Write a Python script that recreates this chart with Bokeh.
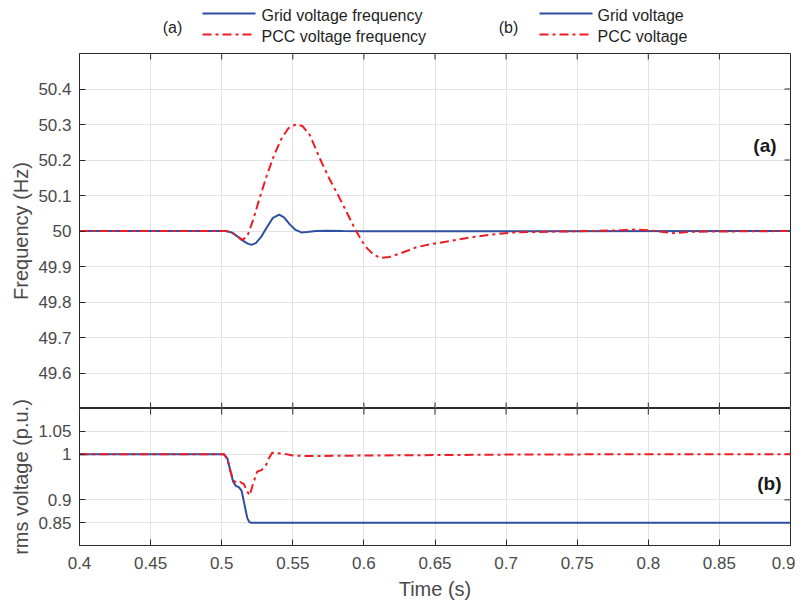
from bokeh.plotting import figure
from bokeh.layouts import column
from bokeh.models import Range1d, FixedTicker, NumeralTickFormatter
from bokeh.core.properties import value
from bokeh.embed import file_html
from bokeh.resources import INLINE

# ---------------- data ----------------
x_ticks = [0.4, 0.45, 0.5, 0.55, 0.6, 0.65, 0.7, 0.75, 0.8, 0.85, 0.9]
f_ticks = [49.6, 49.7, 49.8, 49.9, 50.0, 50.1, 50.2, 50.3, 50.4]
v_ticks = [0.85, 0.9, 1.0, 1.05]

grid_f_t = [0.4, 0.503, 0.507, 0.511, 0.514, 0.518, 0.521, 0.524, 0.528, 0.532, 0.536,
            0.5405, 0.544, 0.548, 0.552, 0.556, 0.56, 0.566, 0.574, 0.585, 0.6, 0.9]
grid_f = [50.0, 50.0, 49.996, 49.985, 49.975, 49.965, 49.961, 49.966, 49.985, 50.012, 50.037,
          50.046, 50.038, 50.018, 50.003, 49.996, 49.997, 50.0, 50.001, 50.0, 49.999, 50.0]

pcc_f_t = [0.4, 0.503, 0.507, 0.511, 0.5145, 0.518, 0.522, 0.527, 0.532, 0.537, 0.542, 0.547,
           0.5526, 0.557, 0.562, 0.5695, 0.576, 0.5812, 0.587, 0.593, 0.598, 0.6023, 0.607,
           0.6117, 0.618, 0.6257, 0.6375, 0.65, 0.661, 0.675, 0.69, 0.705, 0.73, 0.76, 0.78,
           0.79, 0.80, 0.8177, 0.83, 0.9]
pcc_f = [50.0, 50.0, 49.996, 49.985, 49.975, 49.985, 50.03, 50.097, 50.16, 50.215, 50.26, 50.29,
         50.301, 50.295, 50.27, 50.2, 50.145, 50.106, 50.06, 50.012, 49.975, 49.951, 49.933,
         49.924, 49.927, 49.937, 49.955, 49.965, 49.972, 49.982, 49.99, 49.996, 49.998, 50.0, 50.002,
         50.004, 50.002, 49.994, 49.998, 50.0]

grid_v_t = [0.4, 0.5015, 0.504, 0.506, 0.508, 0.510, 0.512, 0.514, 0.516, 0.518, 0.5195, 0.521, 0.9]
grid_v = [1.0, 1.0, 0.99, 0.965, 0.94, 0.93, 0.928, 0.92, 0.89, 0.86, 0.851, 0.85, 0.85]

pcc_v_t = [0.4, 0.5015, 0.504, 0.506, 0.508, 0.5105, 0.513, 0.5155, 0.518, 0.5198, 0.522, 0.525,
           0.528, 0.531, 0.533, 0.5355, 0.539, 0.5437, 0.55, 0.5578, 0.57, 0.6, 0.65, 0.7, 0.75,
           0.8, 0.9]
pcc_v = [1.0, 1.0, 0.99, 0.965, 0.943, 0.937, 0.939, 0.935, 0.918, 0.91, 0.935, 0.962,
         0.965, 0.975, 0.99, 1.003, 1.002, 1.001, 0.997, 0.996, 0.996, 0.997, 0.998, 0.999, 0.9995,
         1.0, 1.0]

legend_a = ["Grid voltage frequency", "PCC voltage frequency"]
legend_b = ["Grid voltage", "PCC voltage"]

# ---------------- style ----------------
FONT = "Liberation Sans"
BLUE = "#2f4fa2"
RED = "#ee1c25"
TXT = "#4a4a4a"
AX = "#2b2b2b"
GRID = "#e3e3e3"
DASH = "9 4 3 4"
W = 795
BL, BR = 79, 5
FRAME_W = W - BL - BR
TICK_PX = 6
OVERLAP = 24  # bottom panel canvas reaches up over the top panel (transparent)

X0, X1 = 0.4, 0.9


def style_axis(ax):
    ax.axis_line_color = AX
    ax.major_tick_line_color = AX
    ax.major_tick_in = TICK_PX
    ax.major_tick_out = 0
    ax.minor_tick_in = 0
    ax.minor_tick_out = 0
    ax.major_label_text_font = FONT
    ax.major_label_text_font_size = "17px"
    ax.major_label_text_color = TXT
    ax.axis_label_text_font = FONT
    ax.axis_label_text_font_size = "20px"
    ax.axis_label_text_font_style = "normal"
    ax.axis_label_text_color = TXT


def make_fig(height, border_top, border_bottom, y0, y1, yticks, ylabel, show_x):
    p = figure(width=W, height=height, output_backend="svg", toolbar_location=None,
               x_range=Range1d(X0, X1), y_range=Range1d(y0, y1),
               min_border_left=BL, min_border_right=BR, min_border_top=border_top,
               min_border_bottom=border_bottom)
    p.outline_line_color = AX
    xt = FixedTicker(ticks=x_ticks)
    yt = FixedTicker(ticks=yticks)
    p.xaxis.ticker = xt
    p.yaxis.ticker = yt
    p.xaxis.formatter = NumeralTickFormatter(format="0.[00]")
    p.yaxis.formatter = NumeralTickFormatter(format="0.[00]")
    p.xgrid.ticker = xt
    p.ygrid.ticker = yt
    for g in (p.xgrid[0], p.ygrid[0]):
        g.grid_line_color = GRID
        g.grid_line_width = 1
    style_axis(p.yaxis[0])
    p.yaxis.axis_label = ylabel
    p.yaxis.major_label_standoff = 8
    p.yaxis.axis_label_standoff = 3
    if show_x:
        style_axis(p.xaxis[0])
        p.xaxis.axis_label = "Time (s)"
        p.xaxis.major_label_standoff = 11
        p.xaxis.axis_label_standoff = 6
    else:
        p.xaxis.visible = False

    # inward ticks on the remaining box edges (MATLAB-style box)
    frame_h = height - border_bottom - border_top
    dx = (X1 - X0) * TICK_PX / FRAME_W
    dy = (y1 - y0) * TICK_PX / frame_h
    inner_x = [t for t in x_ticks if X0 < t < X1]
    inner_y = [t for t in yticks if y0 < t < y1]
    p.segment(x0=[X1] * len(inner_y), y0=inner_y, x1=[X1 - dx] * len(inner_y), y1=inner_y,
              line_color=AX, line_width=1)
    p.segment(x0=inner_x, y0=[y1] * len(inner_x), x1=inner_x, y1=[y1 - dy] * len(inner_x),
              line_color=AX, line_width=1)
    if not show_x:
        p.segment(x0=inner_x, y0=[y0] * len(inner_x), x1=inner_x, y1=[y0 + dy] * len(inner_x),
                  line_color=AX, line_width=1)
    return p


# ---------------- legend strip (page-pixel coordinates) ----------------
LEG_H = 53
leg = figure(width=W, height=LEG_H, output_backend="svg", toolbar_location=None,
             x_range=Range1d(BL, BL + FRAME_W), y_range=Range1d(LEG_H, 0),
             x_axis_type=None, y_axis_type=None, min_border_left=BL, min_border_right=BR,
             min_border_top=0, min_border_bottom=0)
leg.outline_line_color = None
leg.xgrid.visible = False
leg.ygrid.visible = False
leg.segment(x0=[202, 539], y0=[13, 13], x1=[255, 592], y1=[13, 13], line_color=BLUE, line_width=2)
leg.segment(x0=[202, 539], y0=[34, 34], x1=[255, 592], y1=[34, 34], line_color=RED,
            line_width=2, line_dash=DASH)
leg.text(x=[261, 261, 597, 597], y=[15, 36, 15, 36],
         text=legend_a + legend_b,
         text_font=value(FONT), text_font_size="16px", text_color="#1f1f1f",
         text_baseline="middle", text_align="left")
leg.text(x=[172, 508], y=[27, 27], text=["(a)", "(b)"],
         text_font=value(FONT), text_font_size="16px", text_color="#1f1f1f",
         text_baseline="middle", text_align="center")

# ---------------- top panel: frequency ----------------
p1 = make_fig(355, 0, 0, 49.5, 50.5, f_ticks, "Frequency (Hz)", False)
p1.line(grid_f_t, grid_f, line_color=BLUE, line_width=2)
p1.line(pcc_f_t, pcc_f, line_color=RED, line_width=2, line_dash=DASH)
p1.text(x=[0.8902], y=[50.240], text=["(a)"], text_font=value(FONT), text_font_size="19px",
        text_font_style="bold", text_color="#1a1a1a", text_align="right",
        text_baseline="middle")

# ---------------- bottom panel: rms voltage ----------------
p2 = make_fig(198 + OVERLAP, OVERLAP, 61, 0.8, 1.1, v_ticks, "rms voltage (p.u.)", True)
p2.border_fill_alpha = 0
p2.styles = {"margin-top": f"-{OVERLAP}px"}
p2.line(grid_v_t, grid_v, line_color=BLUE, line_width=2)
p2.line(pcc_v_t, pcc_v, line_color=RED, line_width=2, line_dash=DASH)
p2.text(x=[0.8937], y=[0.936], text=["(b)"], text_font=value(FONT), text_font_size="19px",
        text_font_style="bold", text_color="#1a1a1a", text_align="right",
        text_baseline="middle")

layout = column(leg, p1, p2, spacing=0)
open("out.html", "w").write(file_html(layout, INLINE))
